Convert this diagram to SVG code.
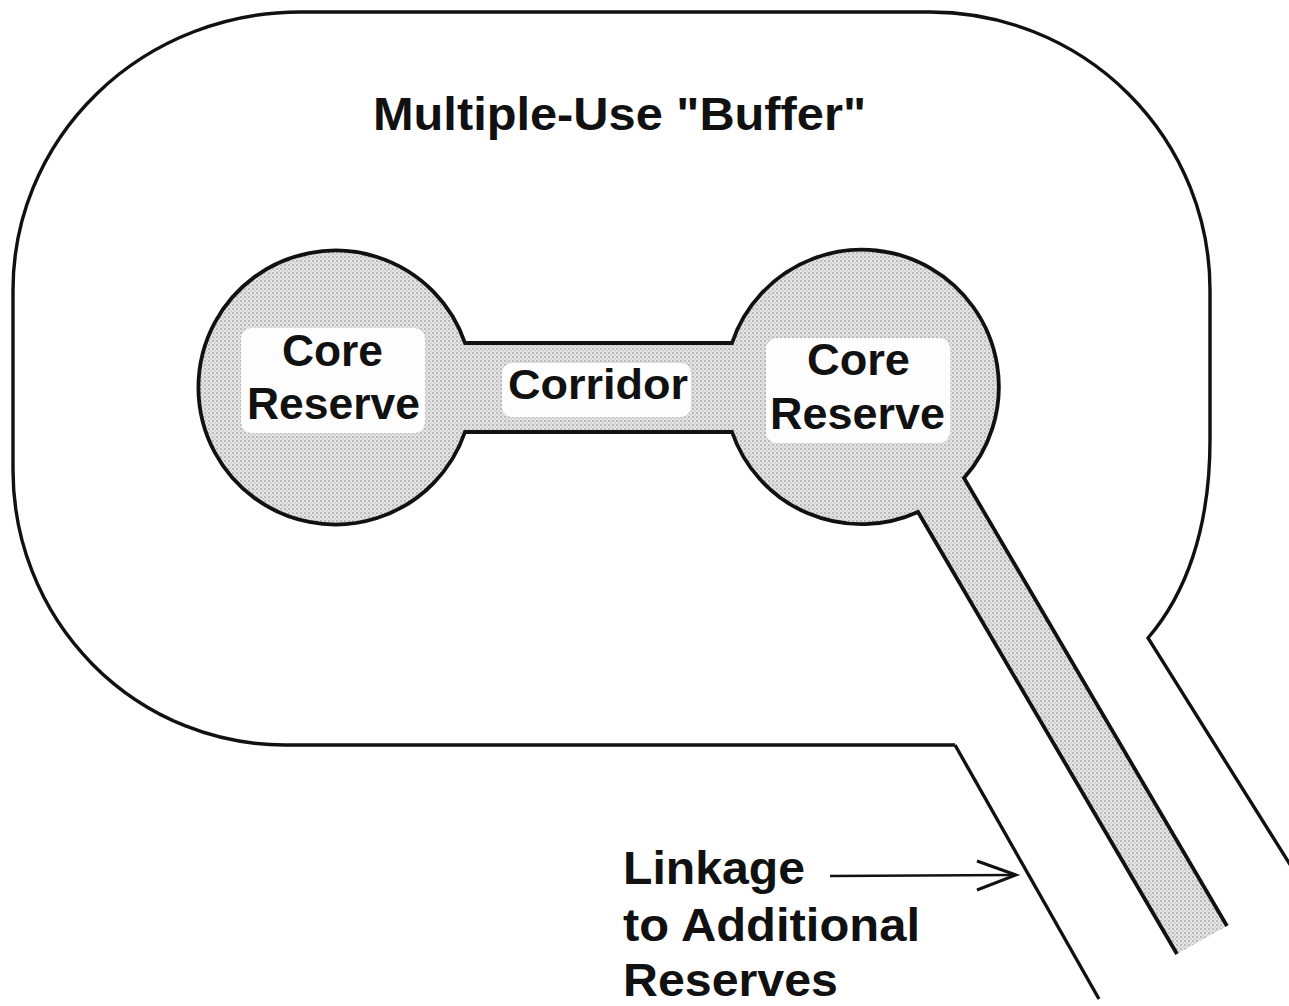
<svg xmlns="http://www.w3.org/2000/svg" width="1289" height="1006" viewBox="0 0 1289 1006">
  <defs>
    <!-- halftone dot screen for the protected-area fill -->
    <pattern id="stipple" width="4" height="4" patternUnits="userSpaceOnUse">
      <rect width="4" height="4" fill="#e4e4e4"/>
      <circle cx="1" cy="1" r="0.95" fill="#a9a9a9"/>
      <circle cx="3" cy="3" r="0.8" fill="#bdbdbd"/>
    </pattern>
  </defs>
  <style>
    .line { fill: none; stroke: #111; stroke-width: 3.4; stroke-linejoin: miter; }
    .edge { fill: none; stroke: #111; stroke-width: 3.8; stroke-linejoin: miter; }
    .label-box { fill: #fdfdfd; }
    .lbl { font-family: "Liberation Sans", Arial, Helvetica, sans-serif; font-weight: bold; fill: #111; }
  </style>

  <rect width="1289" height="1006" fill="#ffffff"/>

  <!-- multiple-use buffer outline -->
  <g id="buffer">
    <path class="line" d="M 955 745 L 285 745 A 272 275 0 0 1 13 470 L 13 290 A 287 278 0 0 1 300 12 L 930 12 A 280 278 0 0 1 1210 290 L 1210 440 C 1210 530 1185 595 1148 638 L 1296 874"/>
    <path class="line" d="M 955 745 L 1099 999"/>
    <text class="lbl" x="373" y="130" font-size="46" textLength="493" lengthAdjust="spacingAndGlyphs">Multiple-Use "Buffer"</text>
  </g>

  <!-- reserves, corridor and outward linkage as one shaded area -->
  <g id="reserve-network">
    <path fill="url(#stipple)" d="M 465 343 A 137 137 0 1 0 465 432 L 732 432 A 137 137 0 0 0 918 512 L 1177 954 L 1227 926 L 964 478 A 137 137 0 1 0 732 343 Z"/>
    <path class="edge" d="M 1227 926 L 964 478 A 137 137 0 1 0 732 343 L 465 343 A 137 137 0 1 0 465 432 L 732 432 A 137 137 0 0 0 918 512 L 1177 954"/>
  </g>

  <g id="core-reserve-west">
    <rect class="label-box" x="241" y="328" width="184" height="105" rx="11"/>
    <text class="lbl" x="282" y="366" font-size="44" textLength="101" lengthAdjust="spacingAndGlyphs">Core</text>
    <text class="lbl" x="247" y="419" font-size="44" textLength="173" lengthAdjust="spacingAndGlyphs">Reserve</text>
  </g>

  <g id="corridor">
    <rect class="label-box" x="502" y="363" width="189" height="54" rx="10"/>
    <text class="lbl" x="508" y="399" font-size="43" textLength="180" lengthAdjust="spacingAndGlyphs">Corridor</text>
  </g>

  <g id="core-reserve-east">
    <rect class="label-box" x="766" y="338" width="184" height="105" rx="11"/>
    <text class="lbl" x="807" y="375" font-size="44" textLength="103" lengthAdjust="spacingAndGlyphs">Core</text>
    <text class="lbl" x="770" y="429" font-size="44" textLength="175" lengthAdjust="spacingAndGlyphs">Reserve</text>
  </g>

  <g id="linkage">
    <text class="lbl" x="623" y="884" font-size="46" textLength="182" lengthAdjust="spacingAndGlyphs">Linkage</text>
    <text class="lbl" x="623" y="941" font-size="46" textLength="297" lengthAdjust="spacingAndGlyphs">to Additional</text>
    <text class="lbl" x="623" y="996" font-size="46" textLength="215" lengthAdjust="spacingAndGlyphs">Reserves</text>
  </g>

  <!-- pointer from the linkage label to the buffer edge -->
  <g id="connectors">
    <line x1="830" y1="876" x2="1012" y2="875" stroke="#111" stroke-width="2.6"/>
    <path d="M 977 861 L 1016 875 L 977 890" fill="none" stroke="#111" stroke-width="3"/>
  </g>
</svg>
